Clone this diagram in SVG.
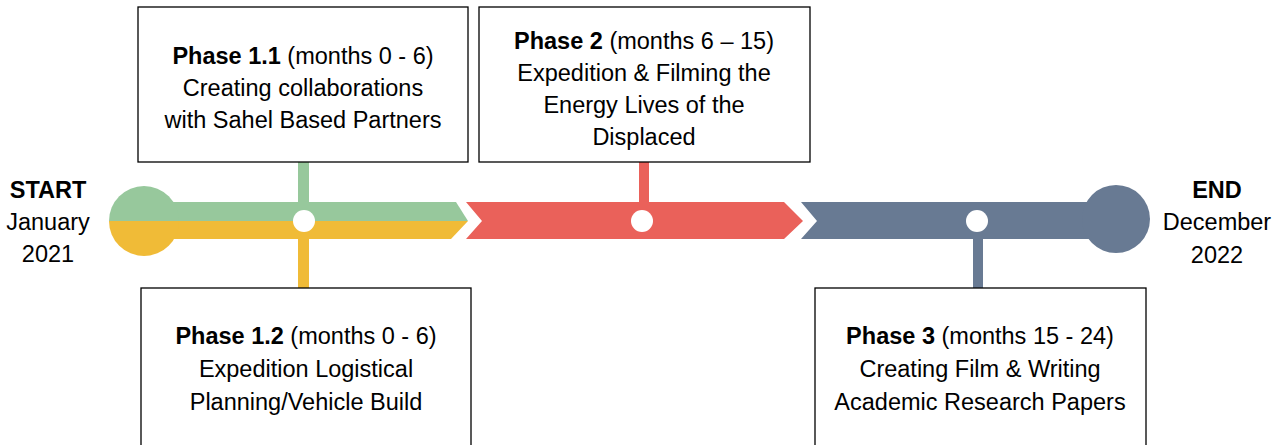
<svg xmlns="http://www.w3.org/2000/svg" width="1286" height="445" viewBox="0 0 1286 445">
  <style>
    .box { fill: #ffffff; stroke: #000000; stroke-width: 1.3; }
    .lbl { font-family: "Liberation Sans", Arial, sans-serif; font-size: 23.5px; fill: #000000; text-anchor: middle; }
    .b { font-weight: bold; }
    .green { fill: #97C89C; }
    .yellow { fill: #F0BB37; }
    .red { fill: #EA615A; }
    .grey { fill: #687A93; }
    .dot { fill: #ffffff; }
  </style>

  <!-- timeline bar, stems and markers -->
  <g id="connectors">
    <!-- stems linking the bar to the phase boxes -->
    <rect class="green" x="298" y="160" width="11" height="62"/>
    <rect class="yellow" x="298" y="221" width="11" height="69"/>
    <rect class="red" x="639" y="160" width="10" height="62"/>
    <rect class="grey" x="973" y="221" width="10" height="69"/>

    <!-- segment 1: green over yellow -->
    <polygon class="green" points="144,202 456,202 468,221 144,221"/>
    <polygon class="yellow" points="144,221 468,221 451,239 144,239"/>
    <!-- segment 2 -->
    <polygon class="red" points="466,202 784,202 803,221 784,239 466,239 482,221"/>
    <!-- segment 3 -->
    <polygon class="grey" points="801,202 1116,202 1116,239 801,239 817,221"/>

    <!-- milestone dots -->
    <circle class="dot" cx="304" cy="221" r="11"/>
    <circle class="dot" cx="642" cy="221" r="11"/>
    <circle class="dot" cx="977" cy="221" r="11"/>
  </g>

  <!-- start cap: split green / yellow -->
  <g id="start-cap">
    <path class="green" d="M109,221 A35,35 0 0 1 179,221 Z"/>
    <path class="yellow" d="M109,221 A35,35 0 0 0 179,221 Z"/>
  </g>

  <!-- end cap -->
  <g id="end-cap">
    <circle class="grey" cx="1116" cy="219" r="34"/>
  </g>

  <g id="start-label">
    <text class="lbl b" x="48" y="198">START</text>
    <text class="lbl" x="48" y="230">January</text>
    <text class="lbl" x="48" y="262">2021</text>
  </g>

  <g id="end-label">
    <text class="lbl b" x="1217" y="198">END</text>
    <text class="lbl" x="1217" y="230">December</text>
    <text class="lbl" x="1217" y="263">2022</text>
  </g>

  <g id="phase-1-1">
    <rect class="box" x="138" y="7" width="330" height="155"/>
    <text class="lbl" x="303" y="64"><tspan class="b">Phase 1.1</tspan> (months 0 - 6)</text>
    <text class="lbl" x="303" y="96">Creating collaborations</text>
    <text class="lbl" x="303" y="128">with Sahel Based Partners</text>
  </g>

  <g id="phase-2">
    <rect class="box" x="479" y="7" width="331" height="155"/>
    <text class="lbl" x="644" y="49"><tspan class="b">Phase 2</tspan> (months 6 – 15)</text>
    <text class="lbl" x="644" y="81">Expedition &amp; Filming the</text>
    <text class="lbl" x="644" y="113">Energy Lives of the</text>
    <text class="lbl" x="644" y="145">Displaced</text>
  </g>

  <g id="phase-1-2">
    <rect class="box" x="141" y="288" width="330" height="170"/>
    <text class="lbl" x="306" y="344"><tspan class="b">Phase 1.2</tspan> (months 0 - 6)</text>
    <text class="lbl" x="306" y="377">Expedition Logistical</text>
    <text class="lbl" x="306" y="410">Planning/Vehicle Build</text>
  </g>

  <g id="phase-3">
    <rect class="box" x="815" y="288" width="331" height="170"/>
    <text class="lbl" x="980" y="344"><tspan class="b">Phase 3</tspan> (months 15 - 24)</text>
    <text class="lbl" x="980" y="377">Creating Film &amp; Writing</text>
    <text class="lbl" x="980" y="410">Academic Research Papers</text>
  </g>
</svg>
